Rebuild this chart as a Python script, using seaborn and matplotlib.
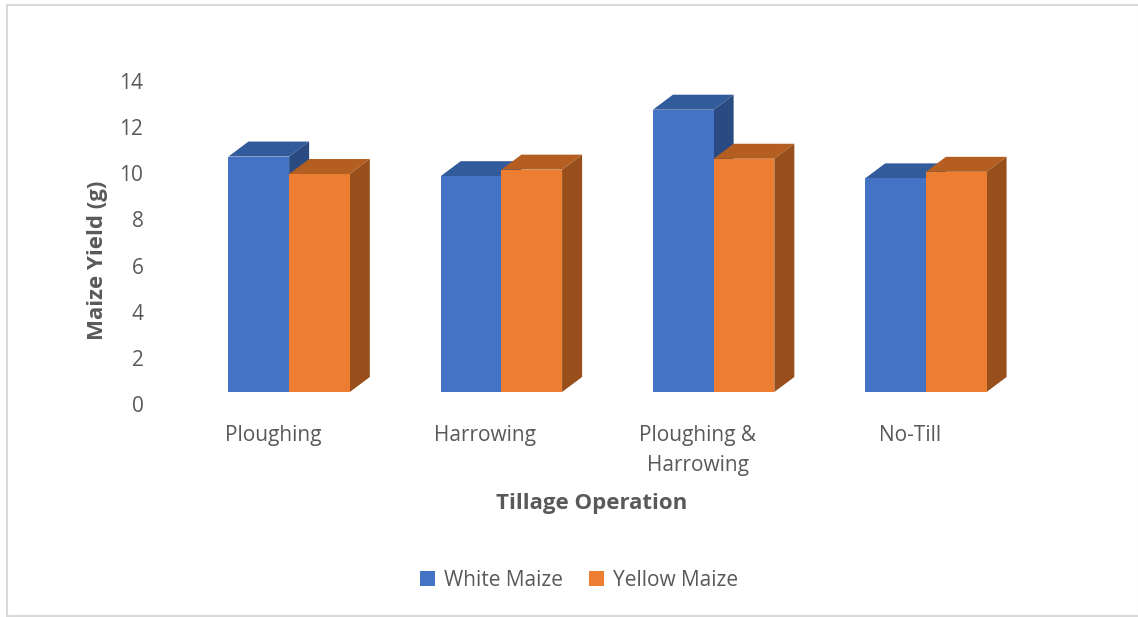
import pandas as pd
import matplotlib
matplotlib.use("Agg")
import matplotlib.pyplot as plt
from matplotlib.patches import Polygon, Rectangle
import seaborn as sns

# values
categories = ["Ploughing", "Harrowing", "Ploughing &\nHarrowing", "No-Till"]
white_maize = [10.8, 9.9, 12.95, 9.8]
yellow_maize = [10.0, 10.2, 10.7, 10.1]
series_names = ["White Maize", "Yellow Maize"]
y_ticks = [0, 2, 4, 6, 8, 10, 12, 14]

W, H = 1138, 617
TEXT = "#595959"
FRONT = ["#4472c4", "#ed7d31"]
TOP = ["#325b9b", "#b45f21"]
SIDE = ["#2a4a82", "#984f1c"]
DEPTH_X, DEPTH_Y = 20, 15  # px


def px_box(left, top, right, bottom):
    return [left / W, 1 - bottom / H, (right - left) / W, (bottom - top) / H]


sns.set_theme(style="white")
plt.rcParams["font.family"] = ["Open Sans", "DejaVu Sans"]

df = pd.DataFrame({
    "category": categories * 2,
    "series": [series_names[0]] * 4 + [series_names[1]] * 4,
    "value": white_maize + yellow_maize,
})

fig = plt.figure(figsize=(W / 100, H / 100), dpi=100)

# outer frame of the chart
fig.add_artist(Rectangle((6.5 / W, 1 - 616 / H), (W - 6) / W, 611 / H,
                         transform=fig.transFigure, fill=False,
                         edgecolor="#d9d9d9", linewidth=1.5))

# axes for the bars: floor at px 392, 21.8 px per unit
ax = fig.add_axes(px_box(183, 80, 1032, 392))
sns.barplot(data=df, x="category", y="value", hue="series", order=categories,
            hue_order=series_names, palette=FRONT, saturation=1, width=0.572,
            gap=0, linewidth=0, ax=ax)
ax.set_xlim(-0.5, 3.5)
ax.set_ylim(0, 312 / 21.8)
ax.axis("off")

# fake 3D faces from the bars themselves
ux = 4 / 849
uy = (312 / 21.8) / 312
dx = DEPTH_X * ux
dy = DEPTH_Y * uy
handles, labels = ax.get_legend_handles_labels()
ax.get_legend().remove()
for i, container in enumerate(ax.containers[:2]):
    for bar in container:
        x0 = bar.get_x()
        x1 = x0 + bar.get_width()
        y1 = bar.get_height()
        bar.set_zorder(2 + 2 * i)
        ax.add_patch(Polygon([(x0, y1), (x1, y1), (x1 + dx, y1 + dy), (x0 + dx, y1 + dy)],
                             facecolor=TOP[i], edgecolor="none", zorder=1 + 2 * i, clip_on=False))
        ax.add_patch(Polygon([(x1, 0), (x1 + dx, dy), (x1 + dx, y1 + dy), (x1, y1)],
                             facecolor=SIDE[i], edgecolor="none", zorder=1 + 2 * i, clip_on=False))

# tick labels sit on their own scale, offset from the bars like the original
lab = fig.add_axes(px_box(167, 81, 1016, 404))
lab.patch.set_alpha(0)
lab.set_xlim(-0.5, 3.5)
lab.set_ylim(0, 14)
lab.set_xticks(range(len(categories)))
lab.set_xticklabels(categories, linespacing=1.6)
lab.set_yticks(y_ticks)
lab.tick_params(axis="both", length=0, labelsize=15, labelcolor=TEXT)
lab.tick_params(axis="x", pad=15)
lab.tick_params(axis="y", pad=17)
sns.despine(ax=lab, left=True, bottom=True)

fig.text(97 / W, 1 - 260 / H, "Maize Yield (g)", rotation=90, ha="center", va="center",
         fontsize=16, fontweight="bold", color=TEXT)
fig.text(592 / W, 1 - 504 / H, "Tillage Operation", ha="center", va="center",
         fontsize=16, fontweight="bold", color=TEXT)

fig.legend(handles, labels, loc="center", bbox_to_anchor=(579 / W, 1 - 580.5 / H), ncol=2,
           frameon=False, fontsize=15, labelcolor=TEXT, handlelength=0.72, handleheight=0.72,
           handletextpad=0.42, columnspacing=1.25)

fig.savefig("out.png", dpi=100)
